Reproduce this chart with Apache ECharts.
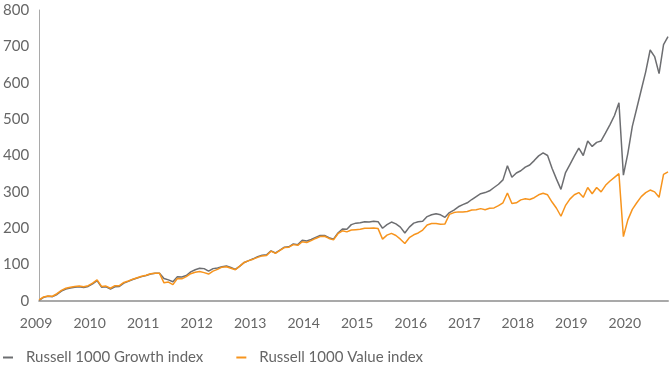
<!DOCTYPE html>
<html>
<head>
<meta charset="utf-8">
<script src="https://cdn.jsdelivr.net/npm/echarts@6/dist/echarts.min.js"></script>
<style>
html,body{margin:0;padding:0;background:#fff;}
#chart{width:670px;height:368px;}
</style>
</head>
<body>
<div id="chart"></div>
<script>
// Tick labels (years) on the x axis
const years = ['2009','2010','2011','2012','2013','2014','2015','2016','2017','2018','2019','2020'];
// Months present in the 2020 part of the data
const lastYearMonths = 10;

// Russell 1000 Growth index (monthly)
const growth = [
  2,10,13,12,18,27,33,36,38,39,37,40,
  47,56,38,39,33,39,40,49,54,59,63,67,
  70,74,76,76,62,58,53,67,66,70,80,86,
  90,89,82,89,91,94,96,92,87,96,106,111,
  116,122,126,127,138,132,140,148,149,157,155,167,
  165,169,175,180,180,174,170,187,198,197,210,214,
  215,218,217,219,218,200,210,217,212,203,187,203,
  214,218,219,232,237,240,237,230,243,250,259,265,
  270,279,287,295,298,303,312,321,333,372,340,352,
  358,368,374,386,399,407,400,365,335,307,352,375,
  398,420,400,440,425,436,440,462,485,510,545,346,
  406,480,530,580,630,690,672,625,705,727
];
// Russell 1000 Value index (monthly)
const value = [
  3,11,14,13,20,29,35,38,40,41,39,42,
  49,58,40,41,35,42,42,51,55,60,64,68,
  71,75,76,76,50,52,45,62,61,67,75,79,
  81,78,74,82,87,93,94,90,86,96,106,111,
  115,120,124,125,137,131,139,147,148,155,153,163,
  161,166,172,177,178,172,168,185,193,190,195,196,
  197,200,200,201,199,170,181,186,180,170,158,174,
  182,187,195,209,213,213,211,212,238,243,245,245,
  246,250,251,254,251,255,256,262,270,297,268,270,
  278,281,279,284,292,296,292,272,255,233,262,280,
  292,298,285,312,295,312,300,318,330,340,350,177,
  223,252,270,287,298,305,300,285,348,355
];
const seriesNames = ['Russell 1000 Growth index', 'Russell 1000 Value index'];

const months = [];
years.forEach((y, yi) => {
  const n = (yi === years.length - 1) ? lastYearMonths : 12;
  for (let m = 1; m <= n; m++) months.push(y + '-' + (m < 10 ? '0' + m : m));
});

const FONT = 'Lato';
const chart = echarts.init(document.getElementById('chart'), null, {renderer: 'canvas'});
chart.setOption({
  animation: false,
  backgroundColor: '#ffffff',
  grid: {left: 39, right: 2, top: 10, bottom: 67, containLabel: false},
  legend: {
    left: 3, top: 350, padding: 0,
    icon: 'rect', itemWidth: 10, itemHeight: 2, itemGap: 33,
    textStyle: {color: '#666666', fontSize: 15, fontFamily: FONT, padding: [0, 0, 0, 8]},
    data: seriesNames
  },
  xAxis: {
    type: 'category',
    data: months,
    boundaryGap: false,
    axisLine: {lineStyle: {color: '#a9a9a9', width: 2}},
    axisTick: {show: false},
    splitLine: {show: false},
    axisLabel: {
      interval: 11,
      formatter: v => v.slice(0, 4),
      color: '#666666', fontSize: 14, fontFamily: FONT,
      margin: 15, padding: [0, 6, 0, 0]
    }
  },
  yAxis: {
    type: 'value',
    min: 0, max: 800, interval: 100,
    axisLine: {show: true, lineStyle: {color: '#a9a9a9', width: 1}},
    axisTick: {show: false},
    splitLine: {show: false},
    axisLabel: {color: '#666666', fontSize: 15, fontFamily: FONT, margin: 10}
  },
  series: [
    {
      name: seriesNames[0], type: 'line', data: growth,
      showSymbol: false, symbol: 'none',
      lineStyle: {color: '#6d6e71', width: 1.5},
      itemStyle: {color: '#6d6e71'}
    },
    {
      name: seriesNames[1], type: 'line', data: value,
      showSymbol: false, symbol: 'none',
      lineStyle: {color: '#f7941d', width: 1.5},
      itemStyle: {color: '#f7941d'}
    }
  ]
});
</script>
</body>
</html>
